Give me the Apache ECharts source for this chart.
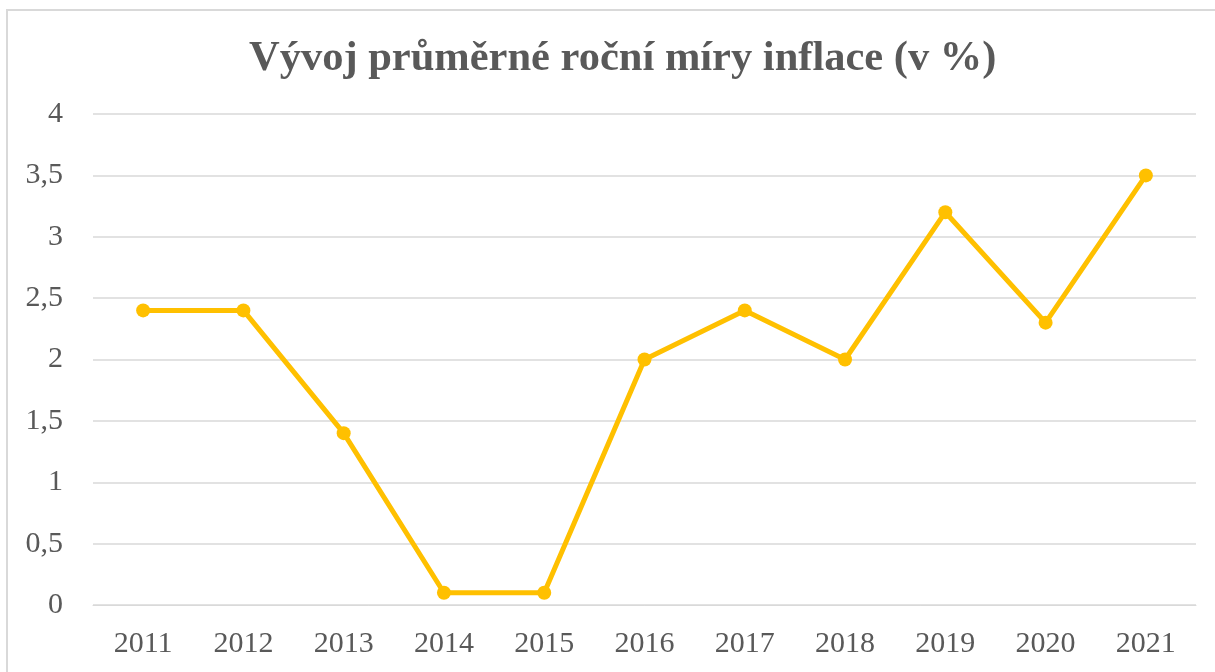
<!DOCTYPE html>
<html>
<head>
<meta charset="utf-8">
<script src="https://cdn.jsdelivr.net/npm/echarts@6/dist/echarts.min.js"></script>
<style>
  html, body { margin: 0; padding: 0; background: #fff; }
  #chart { width: 1215px; height: 672px; }
</style>
</head>
<body>
<div id="chart"></div>
<script>
const years = ['2011', '2012', '2013', '2014', '2015', '2016', '2017', '2018', '2019', '2020', '2021']
const inflation = [2.4, 2.4, 1.4, 0.1, 0.1, 2.0, 2.4, 2.0, 3.2, 2.3, 3.5]

const chart = echarts.init(document.getElementById('chart'), null, { renderer: 'canvas' })

const textColor = '#595959'
const font = '"Liberation Serif", "Times New Roman", serif'

const option = {
  backgroundColor: '#fff',
  animation: false,
  graphic: [{
    type: 'rect',
    shape: { x: 7, y: 10, width: 1220, height: 680 },
    style: { fill: 'none', stroke: '#d9d9d9', lineWidth: 2 },
    silent: true
  }],
  title: {
    text: 'Vývoj průměrné roční míry inflace (v %)',
    left: 244,
    top: 33,
    textStyle: {
      fontFamily: font,
      fontSize: 42.5,
      fontWeight: 'bold',
      color: textColor
    }
  },
  grid: {
    left: 93,
    right: 19,
    top: 114,
    bottom: 67
  },
  xAxis: {
    type: 'category',
    data: years,
    boundaryGap: true,
    axisLine: { lineStyle: { color: '#d9d9d9', width: 1 } },
    axisTick: { show: false },
    axisLabel: {
      color: textColor,
      fontFamily: font,
      fontSize: 30,
      margin: 24
    }
  },
  yAxis: {
    type: 'value',
    min: 0,
    max: 4,
    interval: 0.5,
    axisLine: { show: false },
    axisTick: { show: false },
    axisLabel: {
      color: textColor,
      fontFamily: font,
      fontSize: 30,
      margin: 30,
      formatter: v => String(v).replace('.', ',')
    },
    splitLine: { lineStyle: { color: '#d9d9d9', width: 1.5 } }
  },
  series: [{
    type: 'line',
    data: inflation,
    symbol: 'circle',
    symbolSize: 14,
    lineStyle: { color: '#ffc000', width: 5 },
    itemStyle: { color: '#ffc000' }
  }]
}

chart.setOption(option)
</script>
</body>
</html>
